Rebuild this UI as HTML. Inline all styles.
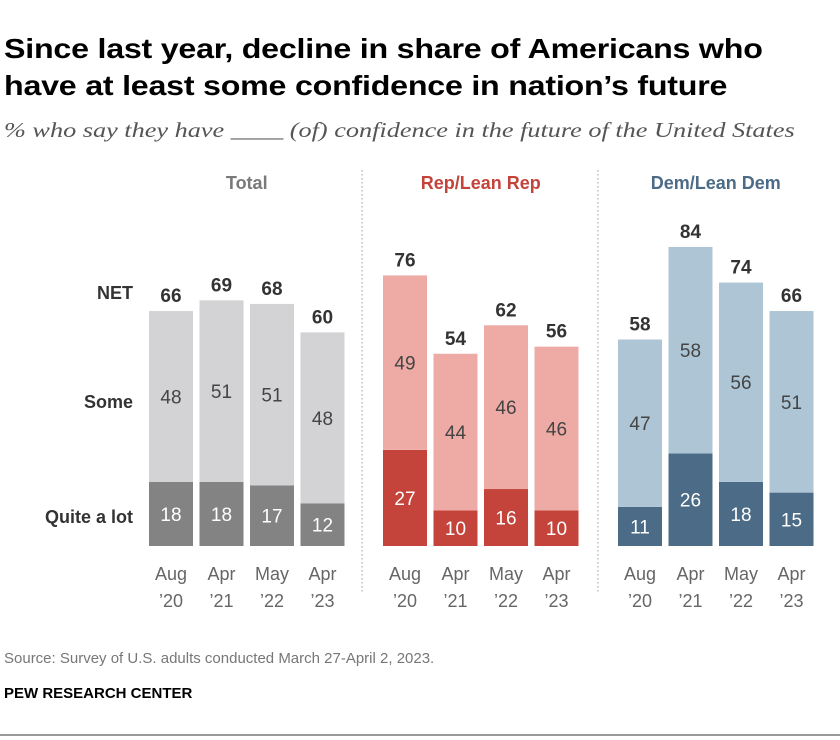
<!DOCTYPE html>
<html><head><meta charset="utf-8"><style>
body{margin:0;background:#fff;width:840px;height:740px;overflow:hidden;font-family:"Liberation Sans",sans-serif;}
.t{position:absolute;left:4px;top:30px;font-size:28px;font-weight:bold;color:#000;line-height:37px;letter-spacing:-0.2px;transform:scaleX(1.15);transform-origin:left top;white-space:nowrap}
.s{position:absolute;left:4px;top:118px;font-family:"Liberation Serif",serif;font-style:italic;font-size:21px;color:#555;transform:scaleX(1.25);transform-origin:left top;white-space:nowrap}
</style></head><body>
<div class="t">Since last year, decline in share of Americans who<br>have at least some confidence in nation’s future</div>
<div class="s">% who say they have ____ (of) confidence in the future of the United States</div>
<svg id="c" width="840" height="740" style="position:absolute;left:0;top:0"></svg>
<script>
const groups=["Total","Rep/Lean Rep","Dem/Lean Dem"];
const periods=[["Aug","’20"],["Apr","’21"],["May","’22"],["Apr","’23"]];
const quiteALot=[[18,18,17,12],[27,10,16,10],[11,26,18,15]];
const some=[[48,51,51,48],[49,44,46,46],[47,58,56,51]];
const net=[[66,69,68,60],[76,54,62,56],[58,84,74,66]];
const colors=[["#838383","#d3d3d5","#7a7a7a"],["#c4433a","#eeaba6","#c4433a"],["#4b6b86","#adc5d5","#4b6b86"]];
const svg=document.getElementById('c');const NS='http://www.w3.org/2000/svg';
const base=546,k=3.56;
const y=v=>base-v*k;
const gx=[149,383,618],step=50.5,bw=44;
function el(t,a,txt){const e=document.createElementNS(NS,t);for(const q in a)e.setAttribute(q,a[q]);if(txt!==undefined)e.textContent=txt;svg.appendChild(e);return e;}
[["NET",292],["Some",401],["Quite a lot",516]].forEach(([l,yy])=>{const e=el('text',{x:133,y:yy+7,'text-anchor':'end','font-size':18,'font-weight':'bold',fill:'#333'},l);

});
[362,598].forEach(x=>{const e=el('line',{x1:x,x2:x,y1:170,y2:592,stroke:'#999','stroke-dasharray':'1.5,2.5'});

});
groups.forEach((g,gi)=>{
 const cx=gx[gi]+1.5*step+bw/2;
 const tt=el('text',{x:cx,y:189,'text-anchor':'middle','font-size':18,'font-weight':'bold',fill:colors[gi][2]},g);
 
 
 periods.forEach((p,i)=>{
  const x=gx[gi]+i*step,q=quiteALot[gi][i],s=some[gi][i],n=net[gi][i];
  const r1=el('rect',{x:x,y:y(q),width:bw,height:q*k,fill:colors[gi][0]});
  
  
  const r2=el('rect',{x:x,y:y(n),width:bw,height:(n-q)*k,fill:colors[gi][1]});
  
  
  const a=el('text',{x:x+bw/2,y:(y(q)+base)/2+7,'text-anchor':'middle','font-size':19,fill:'#fff'},q);
  
  
  const b=el('text',{x:x+bw/2,y:(y(n)+y(q))/2+7,'text-anchor':'middle','font-size':19,fill:'#444'},s);
  
  
  const c=el('text',{x:x+bw/2,y:y(n)-9,'text-anchor':'middle','font-size':19,'font-weight':'bold',fill:'#333'},n);
  
  
  const l1=el('text',{x:x+bw/2,y:580,'text-anchor':'middle','font-size':18,fill:'#666'},p[0]);
  
  
  const l2=el('text',{x:x+bw/2,y:607,'text-anchor':'middle','font-size':18,fill:'#666'},p[1]);
  
  
 });
});
const src=el('text',{x:4,y:663,'font-size':15,fill:'#777'},"Source: Survey of U.S. adults conducted March 27-April 2, 2023.");


const pew=el('text',{x:4,y:698,'font-size':15,'font-weight':'bold',fill:'#000'},"PEW RESEARCH CENTER");


const bl=el('line',{x1:0,x2:840,y1:735,y2:735,stroke:'#333','stroke-width':1});


</script>
</body></html>
